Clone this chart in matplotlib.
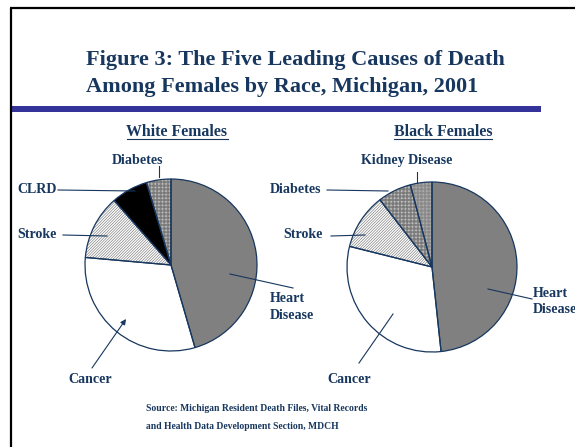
import matplotlib
matplotlib.use('Agg')
import matplotlib.pyplot as plt
from matplotlib.patches import Rectangle

# data (percent of the five leading causes)
causes_white = ['Heart Disease', 'Cancer', 'Stroke', 'CLRD', 'Diabetes']
share_white = [45.5, 30.9, 12.1, 6.9, 4.6]
causes_black = ['Heart Disease', 'Cancer', 'Stroke', 'Diabetes', 'Kidney Disease']
share_black = [48.3, 30.6, 10.6, 6.4, 4.1]

NAVY = '#17375e'
W, H = 575, 447

plt.rcParams['font.family'] = ['Liberation Serif', 'DejaVu Serif']
plt.rcParams['font.weight'] = 'bold'
plt.rcParams['hatch.linewidth'] = 0.45

fig = plt.figure(figsize=(W / 100, H / 100), dpi=100)
ax = fig.add_axes([0, 0, 1, 1])


def py(y):
    # pixel row (from top) -> data y
    return H - y


def draw_pie(values, center, radius, faces, hatches, hatch_cols):
    # bottom layer: fills and hatches
    wedges, _ = ax.pie(values, center=(center[0], py(center[1])), radius=radius,
                       startangle=90, counterclock=False, frame=True,
                       wedgeprops=dict(linewidth=0))
    for w, fc, h, hc in zip(wedges, faces, hatches, hatch_cols):
        w.set_facecolor(fc)
        w.set_edgecolor(hc)
        if h:
            w.set_hatch(h)
    # top layer: navy outlines
    ax.pie(values, center=(center[0], py(center[1])), radius=radius,
           startangle=90, counterclock=False, frame=True,
           wedgeprops=dict(facecolor='none', edgecolor=NAVY, linewidth=0.9))


diag = '/' * 12
grid = '+' * 12
draw_pie(share_white, (171, 265), 86,
         ['#808080', 'white', 'white', 'black', 'white'],
         [None, None, diag, None, grid],
         ['#808080', 'white', '#7a7a7a', 'black', '#7a7a7a'])
draw_pie(share_black, (432, 267), 85,
         ['#808080', 'white', 'white', 'white', '#d0d0d0'],
         [None, None, diag, grid, grid],
         ['#808080', 'white', '#7a7a7a', '#7a7a7a', '#8a8a8a'])

ax.set_xlim(0, W)
ax.set_ylim(0, H)
ax.set_aspect('auto')
ax.axis('off')

# frame and blue rule
ax.plot([10, W], [py(7.5), py(7.5)], color='black', lw=1.6, solid_capstyle='butt')
ax.plot([11, 11], [py(7.5), 0], color='black', lw=1.6, solid_capstyle='butt')
ax.add_patch(Rectangle((11, py(112)), 530, 6, color='#333399', lw=0))

# title
ax.text(86, py(65), 'Figure 3: The Five Leading Causes of Death', fontsize=16,
        color=NAVY, ha='left', va='baseline')
ax.text(86, py(92), 'Among Females by Race, Michigan, 2001', fontsize=16,
        color=NAVY, ha='left', va='baseline')

# subtitles (underlined)
subs = []
for x, s in [(177, 'White Females'), (443, 'Black Females')]:
    subs.append(ax.text(x, py(136), s, fontsize=11.4, color=NAVY,
                        ha='center', va='baseline'))

lab = dict(fontsize=10.1, color=NAVY, va='baseline')
line = dict(color=NAVY, lw=0.8)

# white females labels
ax.text(138, py(164), 'Diabetes', ha='center', **lab)
ax.plot([159, 159], [py(166), py(177)], **line)
ax.text(17, py(193), 'CLRD', ha='left', **lab)
ax.plot([58, 135], [py(190), py(191)], **line)
ax.text(17, py(238), 'Stroke', ha='left', **lab)
ax.plot([63, 107], [py(235), py(236)], **line)
ax.text(270, py(302), 'Heart', ha='left', **lab)
ax.text(270, py(319), 'Disease', ha='left', **lab)
ax.plot([230, 293], [py(274), py(288)], **line)
ax.text(90, py(383), 'Cancer', ha='center', **lab)
ax.annotate('', xy=(126, py(319)), xytext=(92, py(368)),
            arrowprops=dict(arrowstyle='-|>', color=NAVY, lw=0.8,
                            mutation_scale=8, shrinkA=0, shrinkB=0))

# black females labels
ax.text(407, py(164), 'Kidney Disease', ha='center', **lab)
ax.plot([417, 417], [py(172), py(182)], **line)
ax.text(270, py(193), 'Diabetes', ha='left', **lab)
ax.plot([327, 388], [py(190), py(191)], **line)
ax.text(283, py(238), 'Stroke', ha='left', **lab)
ax.plot([331, 365], [py(236), py(235)], **line)
ax.text(533, py(297), 'Heart', ha='left', **lab)
ax.text(533, py(313), 'Disease', ha='left', **lab)
ax.plot([488, 532], [py(289), py(299)], **line)
ax.text(349, py(383), 'Cancer', ha='center', **lab)
ax.plot([359, 393], [py(363), py(314)], **line)

# source note
ax.text(146, py(411), 'Source: Michigan Resident Death Files, Vital Records',
        fontsize=6.9, color=NAVY, ha='left', va='baseline')
ax.text(146, py(429), 'and Health Data Development Section, MDCH',
        fontsize=6.9, color=NAVY, ha='left', va='baseline')

# underline the subtitles
fig.canvas.draw()
for t in subs:
    bb = t.get_window_extent()
    ax.plot([bb.x0, bb.x1], [py(138.5), py(138.5)], color=NAVY, lw=0.8)

fig.savefig('out.png', dpi=100)
